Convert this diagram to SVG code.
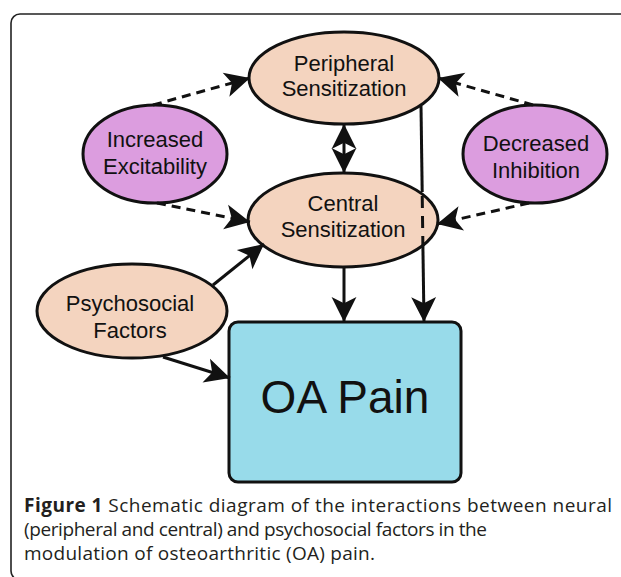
<svg xmlns="http://www.w3.org/2000/svg" width="621" height="577" viewBox="0 0 621 577">
  <style>
    .peach { fill: #f4d4bf; stroke: #111; stroke-width: 3; }
    .purple { fill: #dc9ddf; stroke: #111; stroke-width: 3; }
    .box { fill: #98dbea; stroke: #111; stroke-width: 3; }
    .lbl { font-family: "Liberation Sans", Arial, sans-serif; font-size: 22px; fill: #111; text-anchor: middle; }
    .big { font-family: "Liberation Sans", Arial, sans-serif; font-size: 46px; fill: #111; text-anchor: middle; }
    .solid { stroke: #111; stroke-width: 3; fill: none; }
    .dash { stroke: #111; stroke-width: 3; fill: none; stroke-dasharray: 9 6; }
    .cap { font-family: "Open Sans", "Noto Sans", sans-serif; font-size: 19px; fill: #231f20; }
  </style>
  <defs>
    <marker id="ah" markerUnits="userSpaceOnUse" markerWidth="28" markerHeight="28" viewBox="-25 -13 27 26" refX="0" refY="0" orient="auto-start-reverse">
      <path d="M0,0 L-24,-12 L-18,0 L-24,12 Z" fill="#111"/>
    </marker>
  </defs>
  <rect x="11" y="14" width="660" height="566" rx="9" fill="none" stroke="#222" stroke-width="1.6"/>

  <g id="node-peripheral">
    <ellipse class="peach" cx="344" cy="78" rx="95" ry="46"/>
    <text class="lbl" x="344" y="71">Peripheral</text>
    <text class="lbl" x="344" y="96">Sensitization</text>
  </g>
  <g id="node-increased">
    <ellipse class="purple" cx="155" cy="154" rx="72" ry="49"/>
    <text class="lbl" x="155" y="147">Increased</text>
    <text class="lbl" x="155" y="174">Excitability</text>
  </g>
  <g id="node-decreased">
    <ellipse class="purple" cx="535" cy="154" rx="72" ry="49"/>
    <text class="lbl" x="536" y="151">Decreased</text>
    <text class="lbl" x="536" y="178">Inhibition</text>
  </g>
  <g id="node-central">
    <ellipse class="peach" cx="343" cy="220" rx="95" ry="47"/>
    <text class="lbl" x="343" y="211">Central</text>
    <text class="lbl" x="343" y="237">Sensitization</text>
  </g>
  <g id="node-psychosocial">
    <ellipse class="peach" cx="132" cy="311" rx="95" ry="47"/>
    <text class="lbl" x="130" y="311">Psychosocial</text>
    <text class="lbl" x="130" y="338">Factors</text>
  </g>
  <g id="node-oapain">
    <rect class="box" x="229" y="322" width="232" height="160" rx="9"/>
    <text class="big" x="345" y="413">OA Pain</text>
  </g>

  <g id="connectors">
    <line class="dash" x1="153" y1="105" x2="250" y2="78" marker-end="url(#ah)"/>
    <line class="dash" x1="157" y1="203" x2="250" y2="222" marker-end="url(#ah)"/>
    <line class="dash" x1="533" y1="105" x2="438" y2="78" marker-end="url(#ah)"/>
    <line class="dash" x1="529" y1="203" x2="437" y2="224" marker-end="url(#ah)"/>
    <line class="solid" x1="344" y1="124" x2="344" y2="173" marker-start="url(#ah)" marker-end="url(#ah)"/>
    <line class="solid" x1="421" y1="106" x2="422.2" y2="192"/>
    <line class="solid" x1="422.2" y1="194" x2="422.9" y2="246" stroke-dasharray="12 8" stroke-dashoffset="-2"/>
    <line class="solid" x1="422.9" y1="246" x2="424" y2="322" marker-end="url(#ah)"/>
    <line class="solid" x1="344" y1="267" x2="344" y2="322" marker-end="url(#ah)"/>
    <line class="solid" x1="213" y1="285" x2="264" y2="244" marker-end="url(#ah)"/>
    <line class="solid" x1="163" y1="357" x2="230" y2="378" marker-end="url(#ah)"/>
  </g>

  <g id="caption">
    <text class="cap" x="24" y="512" textLength="588" lengthAdjust="spacing"><tspan font-weight="bold">Figure 1</tspan> Schematic diagram of the interactions between neural</text>
    <text class="cap" x="24" y="536" textLength="463" lengthAdjust="spacing">(peripheral and central) and psychosocial factors in the</text>
    <text class="cap" x="24" y="560" textLength="351" lengthAdjust="spacing">modulation of osteoarthritic (OA) pain.</text>
  </g>
</svg>
